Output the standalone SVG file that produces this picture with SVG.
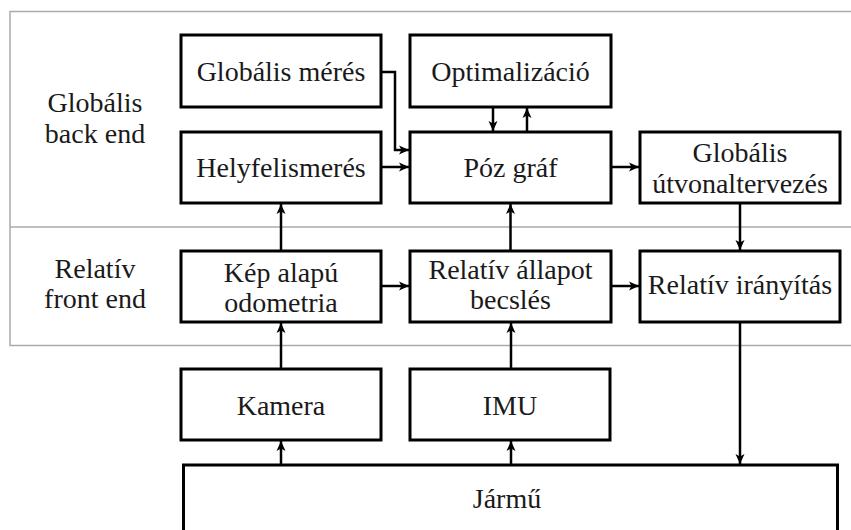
<svg xmlns="http://www.w3.org/2000/svg" width="851" height="530" viewBox="0 0 851 530">
<defs>
<style>
.frame{fill:none;stroke:#aaaaaa;stroke-width:1.5}
.box{fill:#ffffff;stroke:#000000;stroke-width:3}
text{font-family:'Liberation Serif','Times New Roman',Tinos,'DejaVu Serif',serif;font-size:28px;fill:#1a1a1a;text-anchor:middle}
.c{fill:none;stroke:#000000;stroke-width:2.5}
</style>
<marker id="ah" markerUnits="userSpaceOnUse" markerWidth="12" markerHeight="12" viewBox="0 0 12 12" refX="11" refY="6" orient="auto">
<path d="M1,1.5 L11,6 L1,10.5 L3.5,6 z" fill="#000000"/>
</marker>
</defs>
<rect width="851" height="530" fill="#ffffff"/>
<g id="frame" font-family="Liberation Serif, serif">
<path class="frame" d="M851,11.5 H10 V345.5 H851 M10,227 H851"/>
<text x="95" y="112">Globális</text>
<text x="95" y="143">back end</text>
<text x="95" y="278">Relatív</text>
<text x="95" y="308">front end</text>
</g>
<g id="connectors">
<path class="c" marker-end="url(#ah)" d="M381,72 H395 V150 H409"/>
<path class="c" marker-end="url(#ah)" d="M381,167 H409"/>
<path class="c" marker-end="url(#ah)" d="M493,107 V131"/>
<path class="c" marker-end="url(#ah)" d="M527,132 V108"/>
<path class="c" marker-end="url(#ah)" d="M611,167 H639"/>
<path class="c" marker-end="url(#ah)" d="M281,251 V204"/>
<path class="c" marker-end="url(#ah)" d="M510.5,251 V204"/>
<path class="c" marker-end="url(#ah)" d="M740,203 V250"/>
<path class="c" marker-end="url(#ah)" d="M381,286 H409"/>
<path class="c" marker-end="url(#ah)" d="M611,286 H639"/>
<path class="c" marker-end="url(#ah)" d="M281,369 V323"/>
<path class="c" marker-end="url(#ah)" d="M511,369 V323"/>
<path class="c" marker-end="url(#ah)" d="M281,465 V441"/>
<path class="c" marker-end="url(#ah)" d="M511,465 V441"/>
<path class="c" marker-end="url(#ah)" d="M740,322 V464"/>
</g>
<g id="globalis-meres"><rect class="box" x="181" y="35" width="200" height="72"/><text x="281" y="81">Globális mérés</text></g>
<g id="optimalizacio"><rect class="box" x="410" y="35" width="201" height="72"/><text x="510.5" y="81">Optimalizáció</text></g>
<g id="helyfelismeres"><rect class="box" x="181" y="132" width="200" height="71"/><text x="281" y="177">Helyfelismerés</text></g>
<g id="poz-graf"><rect class="box" x="410" y="132" width="201" height="71"/><text x="510.5" y="177">Póz gráf</text></g>
<g id="globalis-utvonaltervezes"><rect class="box" x="640" y="132" width="200" height="71"/><text x="740" y="162">Globális</text><text x="740" y="193">útvonaltervezés</text></g>
<g id="kep-alapu-odometria"><rect class="box" x="181" y="251" width="200" height="71"/><text x="281" y="282">Kép alapú</text><text x="281" y="312">odometria</text></g>
<g id="relativ-allapot-becsles"><rect class="box" x="410" y="251" width="201" height="71"/><text x="510.5" y="279">Relatív állapot</text><text x="510.5" y="309">becslés</text></g>
<g id="relativ-iranyitas"><rect class="box" x="640" y="251" width="200" height="71"/><text x="740" y="294">Relatív irányítás</text></g>
<g id="kamera"><rect class="box" x="181" y="369" width="200" height="71"/><text x="281" y="415">Kamera</text></g>
<g id="imu"><rect class="box" x="410" y="369" width="200" height="71"/><text x="510" y="415">IMU</text></g>
<g id="jarmu"><rect class="box" x="183.5" y="465" width="654" height="80"/><text x="507" y="508">Jármű</text></g>
</svg>
